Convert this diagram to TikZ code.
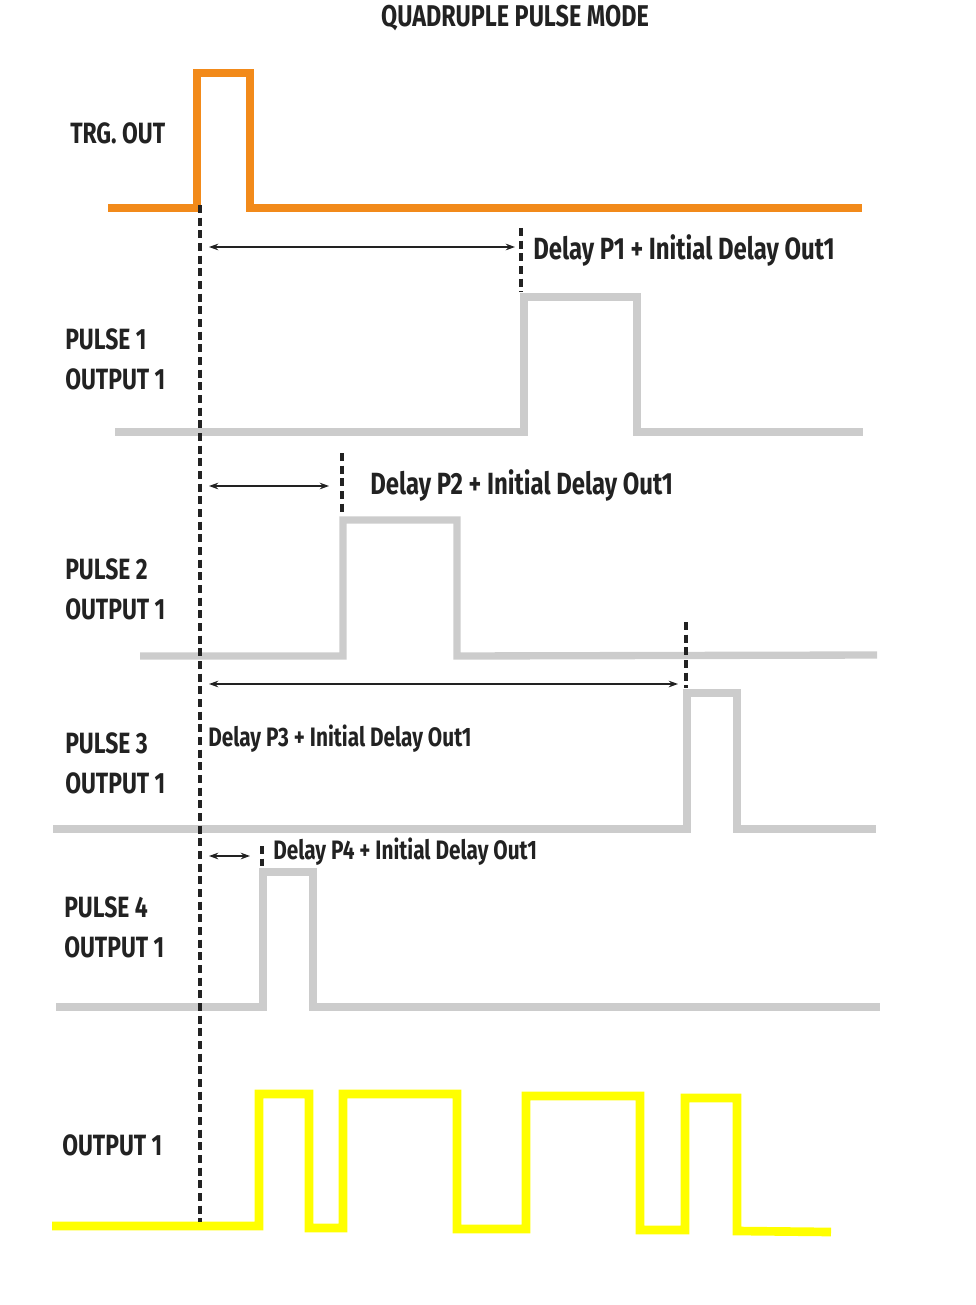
\documentclass[tikz,border=0pt]{standalone}
\usepackage{fontspec}
\setmainfont{Fira Sans}[FakeStretch=0.78,UprightFont=* Bold]
\usetikzlibrary{arrows.meta}
\definecolor{org}{HTML}{F28A1A}
\definecolor{gry}{HTML}{CCCCCC}
\definecolor{ylw}{HTML}{FFFF00}
\definecolor{txt}{HTML}{222222}
\begin{document}
\begin{tikzpicture}[x=0.75pt,y=-0.75pt,
  lab/.style={anchor=west,inner sep=0,text=txt,font=\fontsize{22}{26}\selectfont,align=left},
  dlab/.style={anchor=west,inner sep=0,text=txt,font=\fontsize{23}{27}\selectfont},
  slab/.style={anchor=west,inner sep=0,text=txt,font=\fontsize{20}{24}\selectfont},
  sig/.style={line width=5.5pt,line join=miter},
  dmark/.style={draw=txt,line width=2.6pt,dash pattern=on 6pt off 3.5pt},
  dim/.style={draw=txt,line width=1pt,{Stealth[length=7pt,width=5pt]}-{Stealth[length=7pt,width=5pt]}}]
\useasboundingbox (0,0) rectangle (975,1305);
\node[inner sep=0,text=txt,font=\fontsize{22.5}{26}\selectfont] (title) at (515,18) {QUADRUPLE PULSE MODE};
\node[lab] (ltrg) at (70,133) {TRG. OUT};
\node[lab] (l1) at (65,359) {PULSE 1\\[4pt]OUTPUT 1};
\node[lab] (l2) at (65,589) {PULSE 2\\[4pt]OUTPUT 1};
\node[lab] (l3) at (65,763) {PULSE 3\\[4pt]OUTPUT 1};
\node[lab] (l4) at (64,927) {PULSE 4\\[4pt]OUTPUT 1};
\node[lab] (lo) at (62,1145) {OUTPUT 1};
% signals
\draw[sig,draw=org] (108,208)--(197,208)--(197,73)--(250,73)--(250,208)--(862,208);
\draw[sig,draw=gry] (115,432)--(524,432)--(524,297)--(637,297)--(637,432)--(863,432);
\draw[sig,draw=gry] (140,656)--(343,656)--(343,520)--(457,520)--(457,656)--(877,655);
\draw[sig,draw=gry] (53,829)--(687,829)--(687,693)--(737,693)--(737,829)--(876,829);
\draw[sig,draw=gry] (56,1007)--(263,1007)--(263,872)--(313,872)--(313,1007)--(880,1007);
\draw[line width=6.5pt,draw=ylw,line join=miter] (52,1226)--(259,1226)--(259,1094)--(309,1094)--(309,1228)--(343,1228)--(343,1094)--(457,1094)--(457,1229)--(526,1229)--(526,1096)--(640,1096)--(640,1230)--(685,1230)--(685,1098)--(737,1098)--(737,1231)--(831,1232);
% markers
\coordinate (m0a) at (200,205); \coordinate (m0b) at (200,1222);
\draw[dmark] (m0a)--(m0b);
\coordinate (m1a) at (521,228); \coordinate (m1b) at (521,292);
\draw[dmark] (m1a)--(m1b);
\coordinate (m2a) at (342,453); \coordinate (m2b) at (342,516);
\draw[dmark] (m2a)--(m2b);
\coordinate (m3a) at (686,622); \coordinate (m3b) at (686,688);
\draw[dmark] (m3a)--(m3b);
\coordinate (m4a) at (262,846); \coordinate (m4b) at (262,866);
\draw[dmark] (m4a)--(m4b);
% dimensions
\coordinate (a1) at (209,247); \coordinate (b1) at (515,247);
\draw[dim] (a1)--(b1);
\coordinate (a2) at (209,486); \coordinate (b2) at (329,486);
\draw[dim] (a2)--(b2);
\coordinate (a3) at (209,684); \coordinate (b3) at (678,684);
\draw[dim] (a3)--(b3);
\coordinate (a4) at (209,856); \coordinate (b4) at (250,856);
\draw[dim] (a4)--(b4);
\node[dlab] (d1) at (533,250) {Delay P1 + Initial Delay Out1};
\node[dlab] (d2) at (370,485) {Delay P2 + Initial Delay Out1};
\node[slab] (d3) at (208,739) {Delay P3 + Initial Delay Out1};
\node[slab] (d4) at (273,852) {Delay P4 + Initial Delay Out1};
\end{tikzpicture}
\end{document}
